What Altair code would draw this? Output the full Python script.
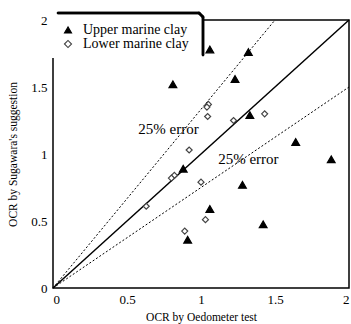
import altair as alt
import pandas as pd

upper_x = [0.81, 1.06, 1.32, 1.23, 1.33, 1.64, 1.88, 0.88, 1.28, 1.06, 1.42, 0.91]
upper_y = [1.52, 1.78, 1.76, 1.56, 1.29, 1.09, 0.96, 0.89, 0.77, 0.59, 0.475, 0.36]
lower_x = [1.05, 1.04, 1.045, 1.22, 1.43, 0.92, 0.82, 0.80, 1.00, 0.63, 1.03, 0.89]
lower_y = [1.37, 1.35, 1.28, 1.25, 1.30, 1.03, 0.84, 0.82, 0.79, 0.61, 0.51, 0.425]
series = ["Upper marine clay", "Lower marine clay"]

line_x = [0, 2, 0, 1.5, 0, 2]
line_y = [0, 2, 0, 2, 0, 1.5]
line_id = ["equal", "equal", "upper", "upper", "lower", "lower"]

note_x = [0.78, 1.32]
note_y = [1.19, 0.96]
note_text = ["25% error", "25% error"]

ticks = [0, 0.5, 1, 1.5, 2]
FONT = "Liberation Serif"

up = pd.DataFrame({"x": upper_x, "y": upper_y, "s": series[0]})
lo = pd.DataFrame({"x": lower_x, "y": lower_y, "s": series[1]})
lines = pd.DataFrame({"x": line_x, "y": line_y, "id": line_id})
notes = pd.DataFrame({"x": note_x, "y": note_y, "t": note_text})

xs = alt.Scale(domain=[0, 2], nice=False)
ys = alt.Scale(domain=[0, 2], nice=False)
xax = alt.Axis(values=ticks, title="OCR by Oedometer test", ticks=False, grid=False,
               labelPadding=5, domain=False, titlePadding=5,
               labelExpr="'' + datum.value")
yax = alt.Axis(values=ticks, title="OCR by Sugawara's suggestion", ticks=False, grid=False,
               labelPadding=6, domain=False, titlePadding=12,
               labelExpr="'' + datum.value")

leg = alt.Legend(orient="none", legendX=8, legendY=3, padding=0,
                 labelFont=FONT, labelFontSize=14, labelColor="black", rowPadding=-3,
                 symbolStrokeWidth=1.1, symbolSize=50, labelOffset=8, title=None, labelLimit=200)

shape_enc = alt.Shape("s:N", scale=alt.Scale(domain=series, range=["triangle-up", "diamond"]), legend=leg)
fill_enc = alt.Fill("s:N", scale=alt.Scale(domain=series, range=["black", "white"]), legend=leg)
stroke_enc = alt.Stroke("s:N", scale=alt.Scale(domain=series, range=["black", "#444444"]), legend=leg)

cover = alt.Chart(notes).mark_rect(color="white").encode(
    x=alt.value(-3), x2=alt.value(150), y=alt.value(-12), y2=alt.value(38))

solid = alt.Chart(lines[lines.id == "equal"]).mark_line(color="black", strokeWidth=1.5).encode(
    x=alt.X("x:Q", scale=xs, axis=xax), y=alt.Y("y:Q", scale=ys, axis=yax), detail="id:N")
dashed = alt.Chart(lines[lines.id != "equal"]).mark_line(color="black", strokeWidth=1, strokeDash=[2, 2]).encode(
    x=alt.X("x:Q", scale=xs), y=alt.Y("y:Q", scale=ys), detail="id:N")

pts_up = alt.Chart(up).mark_point(filled=True, opacity=1, strokeWidth=1.2, size=60).encode(
    x=alt.X("x:Q", scale=xs), y=alt.Y("y:Q", scale=ys),
    shape=shape_enc, fill=fill_enc, stroke=stroke_enc)
pts_lo = alt.Chart(lo).mark_point(filled=True, opacity=1, strokeWidth=1.2, size=36).encode(
    x=alt.X("x:Q", scale=xs), y=alt.Y("y:Q", scale=ys),
    shape=shape_enc, fill=fill_enc, stroke=stroke_enc)

text = alt.Chart(notes).mark_text(font=FONT, fontSize=15, color="black").encode(
    x=alt.X("x:Q", scale=xs), y=alt.Y("y:Q", scale=ys), text="t:N")

border_top = alt.Chart(notes).mark_rule(color="black", strokeWidth=2.5, strokeCap="round").encode(
    x=alt.value(5), x2=alt.value(146), y=alt.value(-7))
border_right = alt.Chart(notes).mark_rule(color="black", strokeWidth=2.5, strokeCap="round").encode(
    x=alt.value(150), y=alt.value(-3), y2=alt.value(35))
corner = alt.Chart(notes).mark_rule(color="black", strokeWidth=2.5, strokeCap="round").encode(
    x=alt.value(146), x2=alt.value(150), y=alt.value(-7), y2=alt.value(-3))

chart = alt.layer(cover, solid, dashed, pts_up, pts_lo, text, border_top, border_right, corner).properties(
    width=296, height=268,
    autosize=alt.AutoSizeParams(type="none"),
    padding={"left": 53, "top": 20, "right": 2, "bottom": 36},
).configure_view(
    stroke="black", strokeWidth=1.5
).configure_axis(
    labelFont=FONT, titleFont=FONT, labelFontSize=13, titleFontSize=11.5,
    labelColor="black", titleColor="black", titleFontWeight="normal"
)

chart.save("out.html", embed_options={"renderer": "svg", "actions": False})
